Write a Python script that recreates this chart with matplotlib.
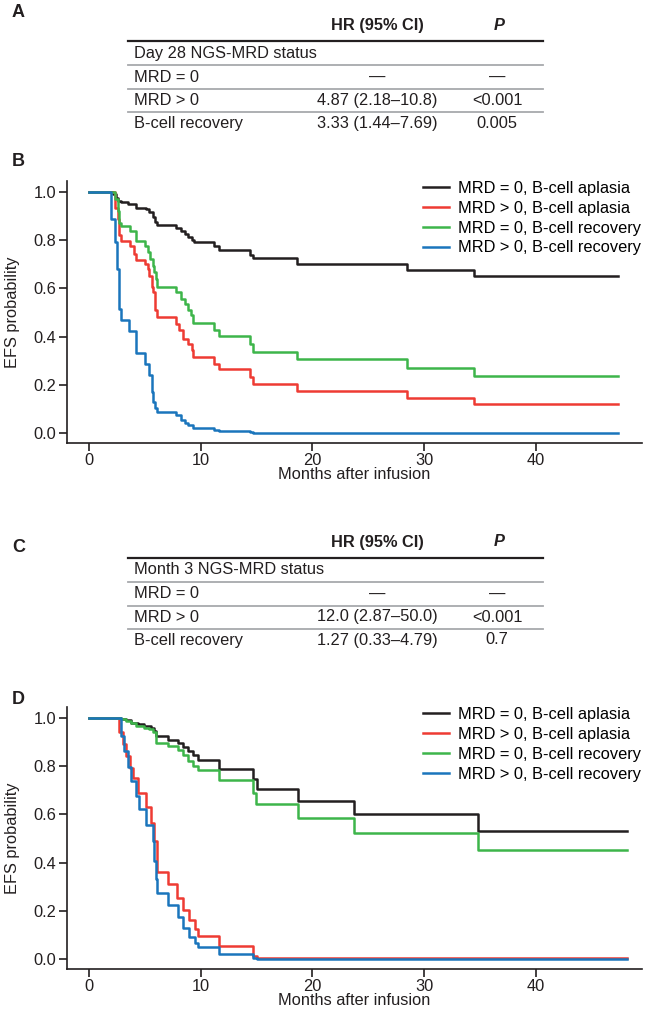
import matplotlib
matplotlib.use("Agg")
import matplotlib.pyplot as plt
from matplotlib.lines import Line2D

plt.rcParams["font.family"] = ["Liberation Sans", "DejaVu Sans"]

# ---- data ----
labels = ["MRD = 0, B-cell aplasia", "MRD > 0, B-cell aplasia",
          "MRD = 0, B-cell recovery", "MRD > 0, B-cell recovery"]
colors = ["#231f20", "#ee3b33", "#3db54a", "#1a75bc"]

table_a_title = "Day 28 NGS-MRD status"
table_c_title = "Month 3 NGS-MRD status"
row_names = ["MRD = 0", "MRD > 0", "B-cell recovery"]
hr_a = ["\u2014", "4.87 (2.18\u201310.8)", "3.33 (1.44\u20137.69)"]
p_a = ["\u2014", "<0.001", "0.005"]
hr_c = ["\u2014", "12.0 (2.87\u201350.0)", "1.27 (0.33\u20134.79)"]
p_c = ["\u2014", "<0.001", "0.7"]

# panel B (day 28)
b_t = [
    [0, 2.15, 2.4, 2.6, 2.9, 3.5, 4.2, 5.1, 5.4, 5.7, 5.9, 6.1, 7.8, 8.2, 8.6, 8.9, 9.2, 9.4,
     11.2, 11.6, 14.4, 14.7, 18.6, 28.5, 34.5, 47.4],
    [0, 2.3, 2.6, 2.7, 2.9, 3.7, 4.0, 4.2, 5.0, 5.3, 5.4, 5.6, 5.7, 5.9, 6.1, 7.8, 8.1, 8.4,
     8.9, 9.2, 9.3, 11.2, 11.6, 14.4, 14.7, 18.6, 28.5, 34.5, 47.4],
    [0, 2.3, 2.6, 2.7, 2.9, 3.7, 4.2, 5.0, 5.3, 5.5, 5.7, 5.8, 6.0, 6.1, 7.8, 8.2, 8.6, 8.9,
     9.1, 9.3, 11.2, 11.6, 14.4, 14.7, 18.6, 28.5, 34.5, 47.4],
    [0, 2.0, 2.3, 2.5, 2.7, 2.9, 3.6, 4.2, 5.0, 5.4, 5.6, 5.7, 5.9, 6.1, 7.8, 8.2, 8.6, 8.9,
     9.3, 11.2, 11.6, 14.4, 14.7, 47.4],
]
b_s = [
    [1.0, 0.99, 0.975, 0.96, 0.955, 0.948, 0.934, 0.927, 0.916, 0.893, 0.875, 0.86, 0.848,
     0.838, 0.824, 0.81, 0.80, 0.79, 0.776, 0.76, 0.738, 0.724, 0.70, 0.674, 0.649, 0.649],
    [1.0, 0.93, 0.885, 0.82, 0.797, 0.776, 0.742, 0.717, 0.70, 0.68, 0.652, 0.604, 0.584,
     0.508, 0.48, 0.453, 0.426, 0.39, 0.37, 0.343, 0.316, 0.288, 0.264, 0.233, 0.202, 0.174,
     0.146, 0.12, 0.12],
    [1.0, 0.97, 0.92, 0.87, 0.858, 0.838, 0.797, 0.776, 0.748, 0.72, 0.69, 0.666, 0.639,
     0.604, 0.584, 0.556, 0.536, 0.508, 0.488, 0.457, 0.426, 0.401, 0.371, 0.337, 0.305,
     0.27, 0.236, 0.236],
    [1.0, 0.885, 0.79, 0.68, 0.515, 0.467, 0.422, 0.33, 0.288, 0.24, 0.172, 0.13, 0.103,
     0.087, 0.073, 0.055, 0.041, 0.032, 0.023, 0.014, 0.01, 0.004, 0.0, 0.0],
]

# panel D (month 3)
d_t = [
    [0, 2.85, 3.3, 3.75, 4.35, 4.95, 5.55, 5.85, 6.0, 7.05, 7.95, 8.4, 8.85, 9.3, 9.75,
     11.65, 14.65, 15.0, 18.7, 23.7, 34.8, 48.2],
    [0, 2.7, 3.0, 3.3, 3.66, 3.9, 4.35, 5.1, 5.55, 5.85, 6.1, 7.05, 7.85, 8.4, 8.95, 9.45,
     9.75, 11.65, 14.65, 15.0, 23.7, 48.2],
    [0, 2.85, 3.3, 3.75, 4.2, 4.95, 5.4, 5.7, 6.0, 7.05, 7.95, 8.4, 8.85, 9.3, 9.75, 11.65,
     14.65, 14.95, 18.7, 23.7, 34.8, 48.2],
    [0, 2.85, 3.15, 3.5, 3.75, 4.2, 4.45, 5.1, 5.7, 5.85, 6.0, 6.1, 7.05, 7.95, 8.4, 8.95,
     9.45, 9.75, 11.65, 14.65, 15.0, 48.2],
]
d_s = [
    [1.0, 0.995, 0.99, 0.98, 0.974, 0.967, 0.96, 0.946, 0.925, 0.907, 0.894, 0.88, 0.863,
     0.847, 0.825, 0.79, 0.746, 0.704, 0.656, 0.603, 0.531, 0.531],
    [1.0, 0.94, 0.89, 0.843, 0.794, 0.753, 0.69, 0.631, 0.566, 0.49, 0.363, 0.314, 0.256,
     0.203, 0.162, 0.124, 0.097, 0.055, 0.014, 0.008, 0.005, 0.005],
    [1.0, 0.995, 0.988, 0.977, 0.967, 0.96, 0.953, 0.94, 0.898, 0.884, 0.866, 0.847, 0.822,
     0.80, 0.783, 0.742, 0.69, 0.642, 0.587, 0.524, 0.452, 0.452],
    [1.0, 0.925, 0.863, 0.797, 0.739, 0.677, 0.622, 0.557, 0.49, 0.407, 0.331, 0.276, 0.225,
     0.175, 0.131, 0.093, 0.069, 0.051, 0.023, 0.007, 0.0, 0.0],
]

W, H = 646, 1018
FS = 11.8
fig = plt.figure(figsize=(W / 100, H / 100), dpi=100)
txt = "#231f20"

# overlay axes in pixel coordinates for labels and tables
ov = fig.add_axes([0, 0, 1, 1])
ov.set_xlim(0, W)
ov.set_ylim(H, 0)
ov.axis("off")


def draw_table(top, title, hr, pv):
    # top = y of header text
    ov.text(377, top, "HR (95% CI)", ha="center", va="center", fontsize=FS,
            fontweight="bold", color=txt)
    ov.text(499, top, "P", ha="center", va="center", fontsize=FS,
            fontweight="bold", style="italic", color=txt)
    y0 = top + 15.5
    ov.add_line(Line2D([128, 543], [y0, y0], color=txt, lw=1.6))
    rows_y = [y0 + 12.5, y0 + 36.5, y0 + 59.5, y0 + 82.5]
    ov.text(134, rows_y[0], title, ha="left", va="center", fontsize=FS, color=txt)
    for k in range(3):
        ly = (rows_y[k] + rows_y[k + 1]) / 2
        ov.add_line(Line2D([128, 543], [ly, ly], color="#a7a9ac", lw=1.3))
        yy = rows_y[k + 1]
        ov.text(134, yy, row_names[k], ha="left", va="center", fontsize=FS, color=txt)
        ov.text(377, yy, hr[k], ha="center", va="center", fontsize=FS, color=txt)
        ov.text(497, yy, pv[k], ha="center", va="center", fontsize=FS, color=txt)


draw_table(25, table_a_title, hr_a, p_a)
draw_table(542, table_c_title, hr_c, p_c)

for letter, y in [("A", 12), ("B", 161), ("C", 548), ("D", 700)]:
    ov.text(12, y, letter, ha="left", va="center", fontsize=13, fontweight="bold", color=txt)


def km_panel(rect, times, surv):
    ax = fig.add_axes(rect)
    for t, s, c, lab in zip(times, surv, colors, labels):
        ax.step(t, s, where="post", color=c, lw=1.8, label=lab)
    ax.set_xlim(-2, 49.5)
    ax.set_ylim(-0.041, 1.045)
    ax.set_xticks([0, 10, 20, 30, 40])
    ax.set_yticks([0.0, 0.2, 0.4, 0.6, 0.8, 1.0])
    ax.set_yticklabels(["0.0", "0.2", "0.4", "0.6", "0.8", "1.0"])
    for sp in ["top", "right"]:
        ax.spines[sp].set_visible(False)
    for sp in ["left", "bottom"]:
        ax.spines[sp].set_linewidth(1.2)
        ax.spines[sp].set_color(txt)
    ax.tick_params(length=5.8, width=1.2, colors=txt, labelsize=FS, pad=1.5)
    ax.set_xlabel("Months after infusion", fontsize=FS, color=txt, labelpad=-1)
    ax.set_ylabel("EFS probability", fontsize=FS, color=txt, labelpad=10)
    ax.legend(loc="upper left", bbox_to_anchor=(0.62, 1.0), frameon=False,
              fontsize=FS, handlelength=1.6, handletextpad=0.55,
              labelspacing=0.3, borderpad=0, borderaxespad=0)
    return ax


km_panel([0.1033, 0.5648, 0.890, 0.2577], b_t, b_s)
km_panel([0.1033, 0.0478, 0.890, 0.2577], d_t, d_s)

fig.savefig("out.png", dpi=100)
